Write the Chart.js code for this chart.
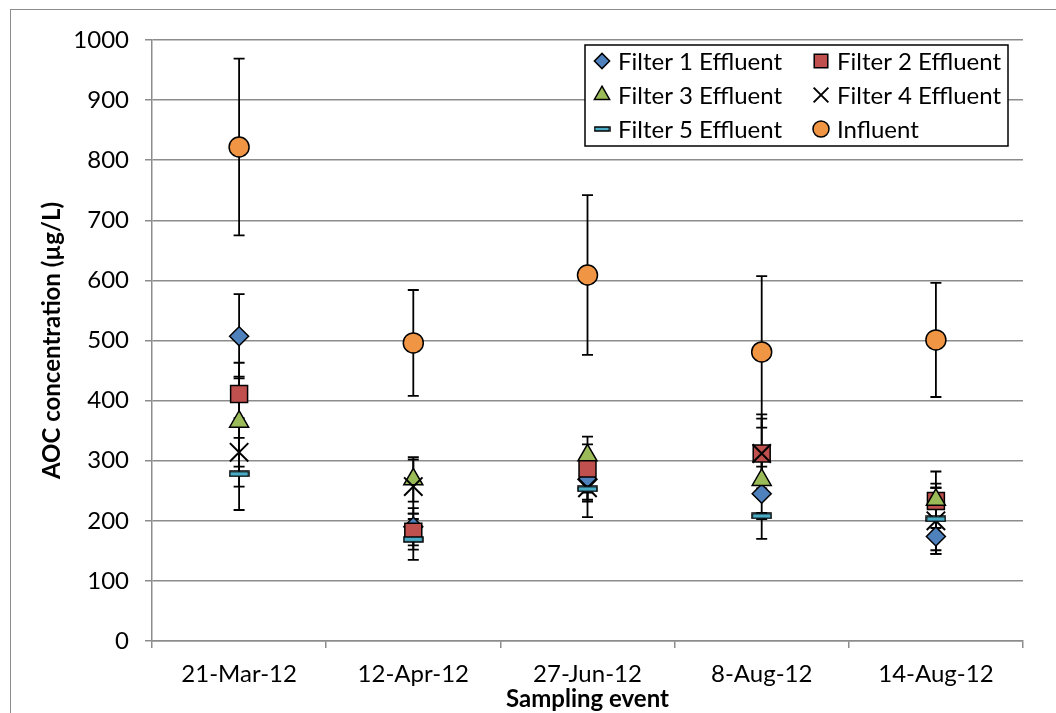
<!DOCTYPE html>
<html>
<head>
<meta charset="utf-8">
<script src="https://cdn.jsdelivr.net/npm/chart.js@4.4.1/dist/chart.umd.min.js"></script>
<style>
  html, body { margin: 0; padding: 0; background: #fff; overflow: hidden; }
  #frame { position: absolute; left: 10px; top: 9px; width: 1100px; height: 800px; border: 1px solid #8c8c8c; }
  #wrap { position: absolute; left: 0; top: 0; width: 1056px; height: 713px; }
</style>
</head>
<body>
<div id="frame"></div>
<div id="wrap"><canvas id="aocChart" width="1056" height="713"></canvas></div>
<script>
"use strict";

// Sampling events
const categories = ['21-Mar-12', '12-Apr-12', '27-Jun-12', '8-Aug-12', '14-Aug-12'];

// AOC (ug/L) means and error bar half-widths per sampling event
const filter1 = [507, 190, 269, 245, 174];
const filter1Err = [70, 31, 37, 75, 29];
const filter2 = [411, 182, 287, 312, 233];
const filter2Err = [52, 30, 40, 65, 29];
const filter3 = [365, 269, 309, 268, 235];
const filter3Err = [75, 37, 31, 22, 47];
const filter4 = [314, 257, 255, 312, 200];
const filter4Err = [57, 45, 20, 58, 55];
const filter5 = [278, 169, 253, 208, 203];
const filter5Err = [60, 34, 47, 5, 52];
const influent = [822, 496, 609, 481, 501];
const influentErr = [147, 88, 133, 126, 95];

const yTicks = [0, 100, 200, 300, 400, 500, 600, 700, 800, 900, 1000];

const FONT = 'Lato, "Open Sans", sans-serif';

// Filter 5 marker: flat bar
function dashMarker(w, h) {
    const c = document.createElement('canvas');
    c.width = w + 2; c.height = h + 2;
    const g = c.getContext('2d');
    g.fillStyle = '#4BACC6';
    g.strokeStyle = '#000';
    g.lineWidth = 1.5;
    g.fillRect(1, 1, w, h);
    g.strokeRect(1, 1, w, h);
    return c;
}

const series = [
    { label: 'Filter 1 Effluent', data: filter1, err: filter1Err, style: 'rectRot', color: '#4F81BD', r: 9.5 },
    { label: 'Filter 2 Effluent', data: filter2, err: filter2Err, style: 'rect', color: '#C0504D', r: 12 },
    { label: 'Filter 3 Effluent', data: filter3, err: filter3Err, style: 'triangle', color: '#9BBB59', r: 11 },
    { label: 'Filter 4 Effluent', data: filter4, err: filter4Err, style: 'crossRot', color: '#000', r: 13 },
    { label: 'Filter 5 Effluent', data: filter5, err: filter5Err, style: dashMarker(19, 5), color: '#4BACC6', r: 10 },
    { label: 'Influent', data: influent, err: influentErr, style: 'circle', color: '#F09543', r: 10 }
];
const legendDash = dashMarker(15, 4);

// Vertical error bars with caps, drawn under the markers
const errorBars = {
    id: 'errorBars',
    beforeDatasetsDraw(chart) {
        const { ctx, scales: { x, y } } = chart;
        ctx.save();
        ctx.strokeStyle = '#000';
        ctx.lineWidth = 1.8;
        series.forEach(s => {
            s.data.forEach((v, j) => {
                const px = x.getPixelForValue(j);
                const top = y.getPixelForValue(v + s.err[j]);
                const bot = y.getPixelForValue(v - s.err[j]);
                ctx.beginPath();
                ctx.moveTo(px, top); ctx.lineTo(px, bot);
                ctx.moveTo(px - 5.5, top); ctx.lineTo(px + 5.5, top);
                ctx.moveTo(px - 5.5, bot); ctx.lineTo(px + 5.5, bot);
                ctx.stroke();
            });
        });
        ctx.restore();
    }
};

// Boxed two-column legend inside the plot area
const boxLegend = {
    id: 'boxLegend',
    afterDraw(chart) {
        const { ctx, chartArea } = chart;
        const right = chartArea.right - 15;
        const left = right - 423;
        const top = chartArea.top + 5;
        const h = 101;
        ctx.save();
        ctx.fillStyle = '#fff';
        ctx.fillRect(left, top, right - left, h);
        ctx.strokeStyle = '#000';
        ctx.lineWidth = 1.5;
        ctx.strokeRect(left, top, right - left, h);
        ctx.textBaseline = 'middle';
        series.forEach((s, i) => {
            const col = i % 2, row = Math.floor(i / 2);
            const mx = left + 17 + col * 219;
            const my = top + 16 + row * 34;
            ctx.fillStyle = s.color;
            ctx.strokeStyle = '#000';
            ctx.lineWidth = s.style === 'crossRot' ? 2 : 1.5;
            Chart.helpers.drawPoint(ctx, {
                pointStyle: typeof s.style === 'string' ? s.style : legendDash,
                radius: s.r * 0.8,
                rotation: 0,
                borderWidth: ctx.lineWidth
            }, mx, my);
            ctx.fillStyle = '#000';
            ctx.font = '24px ' + FONT;
            ctx.fillText(s.label, mx + 16, my + 1);
        });
        ctx.restore();
    }
};

const ctx = document.getElementById('aocChart').getContext('2d');
new Chart(ctx, {
    type: 'line',
    data: {
        labels: categories,
        datasets: series.map((s, i) => ({
            label: s.label,
            data: s.data,
            showLine: false,
            pointStyle: s.style,
            pointRadius: s.r,
            pointHoverRadius: s.r,
            pointBackgroundColor: s.color,
            pointBorderColor: '#000',
            pointBorderWidth: s.style === 'crossRot' ? 2 : 1.5,
            order: series.length - i
        }))
    },
    options: {
        responsive: false,
        animation: false,
        events: [],
        layout: { padding: { left: 10, top: 40, right: 33, bottom: 0 } },
        plugins: {
            legend: { display: false },
            tooltip: { enabled: false }
        },
        scales: {
            x: {
                type: 'category',
                offset: true,
                grid: { offset: true, drawOnChartArea: false, tickLength: 7, color: '#8c8c8c', lineWidth: 1.5 },
                border: { color: '#8c8c8c', width: 1.5 },
                ticks: { color: '#000', font: { family: FONT, size: 24 }, padding: 12, maxRotation: 0 },
                title: { display: true, text: 'Sampling event', color: '#000', font: { family: FONT, size: 24, weight: 'bold' }, padding: { top: 0, bottom: -1 } },
                afterFit(scale) { scale.height = 72; }
            },
            y: {
                min: 0,
                max: 1000,
                afterBuildTicks(scale) { scale.ticks = yTicks.map(v => ({ value: v })); },
                grid: { tickLength: 7, color: '#8c8c8c', lineWidth: 1.5 },
                border: { color: '#8c8c8c', width: 1.5 },
                ticks: { color: '#000', font: { family: FONT, size: 24 }, padding: 16, callback: v => String(v) },
                title: { display: true, text: 'AOC concentration (µg/L)', color: '#000', font: { family: FONT, size: 24, weight: 'bold' }, padding: { top: 28, bottom: 0 } },
                afterFit(scale) { scale.width = 142; }
            }
        }
    },
    plugins: [errorBars, boxLegend]
});
</script>
</body>
</html>
